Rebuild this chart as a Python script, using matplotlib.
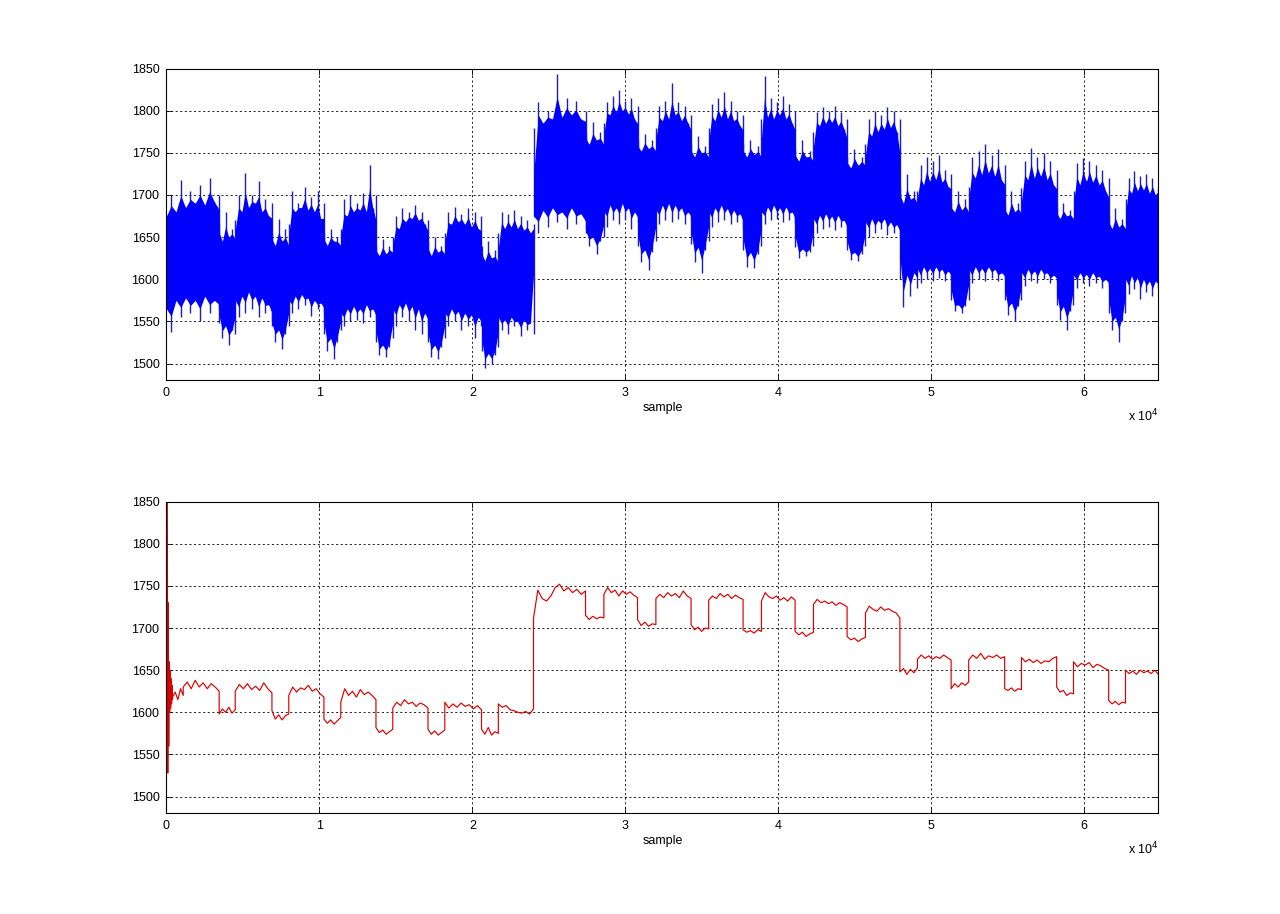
import numpy as np
import matplotlib
matplotlib.use('Agg')
import matplotlib.pyplot as plt

# ---------------- data ----------------
# block boundaries (sample index) of the raw (blue) signal
blue_edges = [0, 3450, 4500, 6900, 8000, 10300, 11400, 13700, 14800, 17100, 18200,
              20600, 21700, 24000, 27400, 28600, 30800, 32000, 34300, 35450, 37700,
              38900, 41100, 42300, 44500, 45700, 47950, 49100, 51300, 52450, 54800,
              55900, 58200, 59300, 61600, 62700, 64850]

# upper envelope of the blue band per block (body values and spike tips)
blue_upper = [
    [1675, 1700, 1680, 1718, 1685, 1705, 1690, 1712, 1688, 1720, 1692, 1700],
    [1665, 1645, 1680, 1650, 1660, 1648],
    [1670, 1700, 1680, 1726, 1685, 1700, 1690, 1716, 1680, 1695, 1675, 1690],
    [1655, 1640, 1672, 1645, 1660, 1640],
    [1665, 1705, 1680, 1690, 1685, 1710, 1682, 1698, 1680, 1705, 1672, 1690],
    [1655, 1640, 1660, 1645, 1650, 1640],
    [1660, 1695, 1675, 1700, 1680, 1690, 1682, 1702, 1680, 1736, 1685, 1700],
    [1640, 1628, 1648, 1630, 1640, 1632],
    [1650, 1675, 1660, 1685, 1668, 1680, 1672, 1688, 1670, 1680, 1665, 1670],
    [1645, 1628, 1650, 1632, 1640, 1630],
    [1655, 1680, 1665, 1686, 1668, 1678, 1665, 1685, 1662, 1680, 1660, 1675],
    [1640, 1622, 1645, 1625, 1635, 1620],
    [1655, 1680, 1660, 1678, 1662, 1682, 1660, 1675, 1658, 1670, 1655, 1665],
    [1780, 1810, 1785, 1800, 1790, 1843, 1792, 1815, 1795, 1812, 1790, 1800],
    [1775, 1760, 1786, 1765, 1775, 1760],
    [1785, 1810, 1795, 1818, 1798, 1824, 1800, 1812, 1796, 1815, 1790, 1805],
    [1765, 1752, 1772, 1755, 1765, 1752],
    [1780, 1805, 1788, 1812, 1790, 1833, 1795, 1810, 1788, 1805, 1785, 1795],
    [1760, 1745, 1770, 1750, 1758, 1745],
    [1780, 1808, 1788, 1815, 1792, 1822, 1790, 1812, 1788, 1800, 1782, 1795],
    [1760, 1745, 1765, 1748, 1758, 1745],
    [1790, 1841, 1792, 1815, 1790, 1810, 1795, 1818, 1790, 1808, 1785, 1800],
    [1755, 1740, 1765, 1745, 1752, 1740],
    [1775, 1798, 1782, 1804, 1785, 1800, 1786, 1805, 1782, 1798, 1778, 1790],
    [1745, 1732, 1755, 1735, 1745, 1735],
    [1760, 1790, 1770, 1800, 1775, 1795, 1778, 1804, 1780, 1800, 1775, 1790],
    [1710, 1690, 1725, 1695, 1705, 1690],
    [1705, 1735, 1712, 1745, 1716, 1740, 1718, 1748, 1715, 1730, 1710, 1725],
    [1690, 1680, 1705, 1682, 1695, 1680],
    [1710, 1745, 1720, 1752, 1724, 1760, 1726, 1748, 1722, 1755, 1718, 1735],
    [1690, 1676, 1705, 1680, 1690, 1678],
    [1708, 1740, 1718, 1756, 1720, 1745, 1722, 1750, 1718, 1740, 1712, 1730],
    [1685, 1672, 1690, 1675, 1682, 1672],
    [1705, 1738, 1712, 1744, 1716, 1740, 1715, 1735, 1712, 1730, 1705, 1720],
    [1675, 1660, 1685, 1662, 1672, 1660],
    [1695, 1720, 1702, 1728, 1705, 1722, 1706, 1725, 1702, 1720, 1700, 1710],
]

# lower envelope of the blue band per block
blue_lower = [
    [1565, 1537, 1575, 1555, 1578, 1560, 1575, 1550, 1580, 1560, 1575, 1565],
    [1548, 1530, 1545, 1522, 1540, 1535],
    [1575, 1555, 1580, 1560, 1585, 1565, 1580, 1555, 1578, 1560, 1570, 1550],
    [1545, 1525, 1540, 1517, 1535, 1545],
    [1575, 1560, 1580, 1565, 1582, 1570, 1578, 1556, 1575, 1565, 1572, 1560],
    [1535, 1515, 1530, 1505, 1525, 1540],
    [1560, 1545, 1565, 1550, 1568, 1552, 1565, 1548, 1570, 1555, 1565, 1550],
    [1525, 1510, 1522, 1508, 1520, 1530],
    [1565, 1545, 1570, 1555, 1572, 1550, 1568, 1540, 1565, 1535, 1560, 1545],
    [1525, 1508, 1522, 1505, 1520, 1530],
    [1560, 1545, 1565, 1550, 1562, 1540, 1560, 1545, 1558, 1530, 1555, 1545],
    [1515, 1495, 1512, 1500, 1510, 1520],
    [1555, 1540, 1552, 1535, 1555, 1545, 1550, 1533, 1552, 1540, 1548, 1535],
    [1675, 1655, 1682, 1662, 1685, 1668, 1680, 1660, 1685, 1665, 1678, 1660],
    [1655, 1640, 1650, 1630, 1645, 1650],
    [1680, 1662, 1688, 1670, 1685, 1665, 1690, 1670, 1685, 1660, 1680, 1668],
    [1640, 1620, 1635, 1611, 1632, 1645],
    [1682, 1665, 1688, 1670, 1690, 1668, 1688, 1672, 1685, 1665, 1680, 1670],
    [1642, 1620, 1638, 1607, 1635, 1645],
    [1680, 1662, 1685, 1668, 1688, 1670, 1684, 1665, 1682, 1668, 1678, 1660],
    [1635, 1615, 1632, 1613, 1630, 1640],
    [1680, 1665, 1686, 1670, 1688, 1672, 1685, 1668, 1686, 1670, 1680, 1665],
    [1638, 1625, 1636, 1628, 1632, 1640],
    [1672, 1655, 1676, 1660, 1678, 1662, 1675, 1658, 1676, 1662, 1670, 1655],
    [1635, 1623, 1632, 1622, 1630, 1640],
    [1668, 1650, 1672, 1655, 1670, 1660, 1672, 1652, 1668, 1655, 1665, 1650],
    [1600, 1567, 1605, 1580, 1608, 1590],
    [1612, 1595, 1615, 1600, 1613, 1598, 1615, 1602, 1612, 1598, 1610, 1600],
    [1575, 1562, 1570, 1560, 1568, 1575],
    [1612, 1595, 1615, 1600, 1613, 1598, 1615, 1602, 1612, 1598, 1608, 1600],
    [1575, 1558, 1572, 1550, 1568, 1575],
    [1608, 1592, 1612, 1598, 1610, 1595, 1612, 1600, 1608, 1595, 1605, 1598],
    [1570, 1552, 1568, 1540, 1562, 1570],
    [1605, 1590, 1608, 1595, 1606, 1592, 1608, 1595, 1604, 1590, 1600, 1592],
    [1560, 1540, 1555, 1526, 1550, 1560],
    [1600, 1582, 1604, 1588, 1602, 1577, 1600, 1585, 1598, 1580, 1598, 1590],
]

# filtered (red) signal: block boundaries and values per block
red_edges = [0, 400, 1100, 3450, 4500, 6900, 8000, 10300, 11400, 13700, 14800, 17100,
             18200, 20600, 21700, 24000, 27400, 28600, 30800, 32000, 34300, 35450,
             37700, 38900, 41100, 42300, 44500, 45700, 47950, 49100, 51300, 52450,
             54800, 55900, 58200, 59300, 61600, 62700, 64850]
red_values = [
    [1850, 1528, 1730, 1560, 1660, 1600, 1650, 1605, 1640, 1610, 1632, 1615],
    [1618, 1624, 1615, 1628, 1620],
    [1630, 1636, 1628, 1638, 1630, 1635, 1628, 1634, 1630, 1625],
    [1598, 1604, 1600, 1606, 1599, 1603],
    [1625, 1633, 1628, 1634, 1627, 1631, 1626, 1635, 1628, 1623],
    [1602, 1592, 1597, 1591, 1596, 1598],
    [1620, 1630, 1624, 1629, 1627, 1632, 1625, 1628, 1622, 1618],
    [1592, 1587, 1591, 1586, 1590, 1594],
    [1612, 1628, 1620, 1625, 1618, 1627, 1621, 1624, 1620, 1615],
    [1582, 1576, 1579, 1574, 1577, 1580],
    [1605, 1612, 1608, 1615, 1610, 1612, 1607, 1611, 1609, 1605],
    [1580, 1574, 1578, 1573, 1576, 1579],
    [1612, 1605, 1610, 1606, 1611, 1607, 1609, 1604, 1608, 1603],
    [1580, 1574, 1582, 1573, 1577, 1575],
    [1610, 1606, 1608, 1603, 1602, 1600, 1599, 1601, 1598, 1604],
    [1712, 1745, 1735, 1732, 1738, 1748, 1752, 1744, 1748, 1742, 1746, 1740, 1744],
    [1715, 1710, 1714, 1711, 1713, 1712],
    [1740, 1748, 1742, 1745, 1738, 1744, 1740, 1743, 1739, 1736],
    [1710, 1703, 1707, 1702, 1705, 1704],
    [1735, 1740, 1736, 1742, 1738, 1741, 1736, 1744, 1738, 1735],
    [1704, 1698, 1701, 1696, 1700, 1699],
    [1733, 1738, 1735, 1741, 1737, 1740, 1735, 1739, 1736, 1734],
    [1698, 1695, 1697, 1694, 1698, 1696],
    [1732, 1742, 1737, 1735, 1738, 1733, 1736, 1732, 1737, 1733],
    [1696, 1692, 1695, 1690, 1693, 1695],
    [1728, 1734, 1730, 1732, 1729, 1731, 1727, 1730, 1728, 1725],
    [1690, 1686, 1688, 1684, 1687, 1689],
    [1718, 1726, 1722, 1720, 1725, 1721, 1723, 1720, 1718, 1712],
    [1648, 1652, 1645, 1651, 1647, 1653],
    [1663, 1668, 1664, 1667, 1663, 1666, 1664, 1668, 1665, 1662],
    [1628, 1634, 1630, 1635, 1632, 1636],
    [1662, 1668, 1664, 1670, 1663, 1667, 1665, 1668, 1664, 1666],
    [1628, 1626, 1629, 1625, 1628, 1627],
    [1665, 1660, 1663, 1659, 1662, 1658, 1661, 1660, 1664, 1666],
    [1630, 1624, 1626, 1620, 1623, 1622],
    [1660, 1654, 1658, 1656, 1659, 1653, 1657, 1655, 1652, 1650],
    [1614, 1610, 1613, 1609, 1612, 1611],
    [1650, 1646, 1649, 1645, 1650, 1647, 1649, 1646, 1650, 1645],
]

y_ticks = [1500, 1550, 1600, 1650, 1700, 1750, 1800, 1850]
x_ticks = [0, 10000, 20000, 30000, 40000, 50000, 60000]
x_tick_labels = ['0', '1', '2', '3', '4', '5', '6']
x_label = 'sample'
x_max = 64850
y_lim = (1480, 1850)


def expand(edges, blocks, first_offset=0):
    xs, ys = [], []
    for i, vals in enumerate(blocks):
        a, b = edges[i], edges[i + 1]
        if i == 0:
            a = a + first_offset
        xs.append(np.linspace(a, b - 1, len(vals)))
        ys.append(np.asarray(vals, dtype=float))
    return np.concatenate(xs), np.concatenate(ys)


bx, bu = expand(blue_edges, blue_upper)
_, bl = expand(blue_edges, blue_lower)
rx, ry = expand(red_edges, red_values, first_offset=60)

# dense core of the band: half way between each column and its lowest neighbour
pu = np.pad(bu, 1, mode='edge')
pl = np.pad(bl, 1, mode='edge')
min_u = np.minimum(np.minimum(pu[:-2], pu[1:-1]), pu[2:])
max_l = np.maximum(np.maximum(pl[:-2], pl[1:-1]), pl[2:])
core_u = 0.5 * (bu + min_u)
core_l = 0.5 * (bl + max_l)

plt.rcParams['font.family'] = ['Liberation Sans', 'DejaVu Sans']
fig = plt.figure(figsize=(12.8, 9.14), dpi=100)
ax1 = fig.add_axes([0.13, 0.5838, 0.775, 0.3412])
ax2 = fig.add_axes([0.13, 0.11, 0.775, 0.3412])

ax1.vlines(bx, bl, bu, color='#1c1cc0', linewidth=1.0, zorder=2)
ax1.fill_between(bx, core_l, core_u, color='#0000ff', linewidth=0, zorder=3)
ax2.plot(rx, ry, color='#dd0000', linewidth=0.85)

for ax in (ax1, ax2):
    ax.set_xlim(0, x_max)
    ax.set_ylim(*y_lim)
    ax.set_yticks(y_ticks)
    ax.set_xticks(x_ticks)
    ax.set_xticklabels(x_tick_labels)
    ax.grid(True, color='black', linestyle=(0, (2.5, 3)), linewidth=0.6)
    ax.set_axisbelow(True)
    ax.tick_params(direction='in', top=True, right=True, length=4, width=0.6,
                   labelsize=9, pad=5)
    for s in ax.spines.values():
        s.set_linewidth(0.8)
        s.set_zorder(5)
    ax.set_xlabel(x_label, fontsize=9, labelpad=2)
    ax.text(1.0, -0.115, r'x 10$^4$', transform=ax.transAxes, ha='right', va='center',
            fontsize=9)

fig.savefig('out.png', dpi=100, facecolor='white')
